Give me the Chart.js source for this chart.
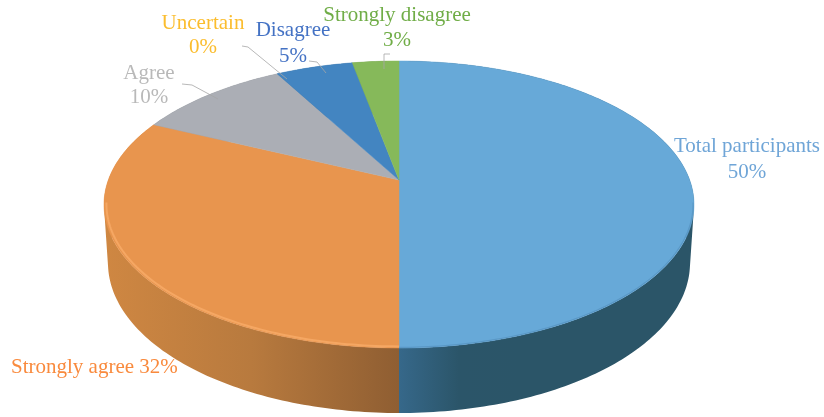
<!DOCTYPE html>
<html>
<head>
<meta charset="utf-8">
<style>
  html, body { margin: 0; padding: 0; background: #fff; }
  canvas { display: block; }
</style>
<script src="https://cdn.jsdelivr.net/npm/chart.js@4"></script>
</head>
<body>
<canvas id="myChart" width="824" height="417"></canvas>
<script>
const categories = ["Total participants", "Strongly agree", "Agree", "Uncertain", "Disagree", "Strongly disagree"];
const percents = [50, 32, 10, 0, 5, 3];

const faceColors = ["#67a9d8", "#e8954e", "#abaeb5", "#e8b93c", "#4385c1", "#86b95a"];
const sideColors = [
  ["#36688a", "#2b5569", "#2b5568"],
  ["#cf8742", "#b87a3e", "#8f5e32"],
  ["#80838a", "#80838a", "#80838a"],
  ["#b08c2c", "#b08c2c", "#b08c2c"],
  ["#2e5f8c", "#2e5f8c", "#2e5f8c"],
  ["#628a40", "#628a40", "#628a40"],
];
const textColors = ["#6fa5d7", "#f98a3d", "#b9b9b9", "#fbbd2e", "#4472c4", "#70ad47"];

// where each label sits: [x, first line y, second line y], align
const labelSpots = [
  [747, 146, 172, "center"],
  [11, 367, null, "left"],
  [149, 73, 97, "center"],
  [203, 23, 47, "center"],
  [293, 30, 56, "center"],
  [397, 15, 40, "center"],
];
const leaders = [
  [[182, 84], [192, 85], [218, 99]],
  [[242, 46], [248, 47], [287, 79]],
  [[309, 61], [317, 62], [326, 73]],
  [[390, 54], [384, 54], [384, 69]],
];

// the disc as seen in perspective: top face and bottom face ellipses
const topFace = { cy: 204.5, rx: 295, ry: 143.5 };
const bottomFace = { cy: 263, rx: 291, ry: 150 };

const project = (arc, face, angle, scale) => {
  const tilt = (arc.y - topFace.cy) / topFace.ry;
  const u = Math.cos(angle) * scale;
  const v = Math.sin(angle) * scale;
  const w = 1 + tilt * v;
  return {
    x: arc.x + (face.rx * u * Math.sqrt(1 - tilt * tilt)) / w,
    y: face.cy + (face.ry * (v + tilt)) / w,
  };
};

const arcPoints = (arc, face, scale) => {
  const pts = [];
  const steps = Math.max(2, Math.ceil((arc.endAngle - arc.startAngle) * 60));
  for (let i = 0; i <= steps; i++) {
    const a = arc.startAngle + ((arc.endAngle - arc.startAngle) * i) / steps;
    pts.push(project(arc, face, a, scale));
  }
  return pts;
};

const signedArea = (pts) => {
  let sum = 0;
  pts.forEach((p, i) => {
    const q = pts[(i + 1) % pts.length];
    sum += p.x * q.y - q.x * p.y;
  });
  return sum;
};

const pie3d = {
  id: "pie3d",
  beforeDatasetsDraw(chart) {
    const ctx = chart.ctx;
    const arcs = chart.getDatasetMeta(0).data;

    // side wall first, the top face covers whatever is behind it
    arcs.forEach((arc, i) => {
      if (arc.endAngle - arc.startAngle <= 0) return;
      const stops = sideColors[i];
      const left = i === 0 ? arc.x : arc.x - topFace.rx;
      const right = i === 0 ? arc.x + 120 : arc.x;
      const grad = ctx.createLinearGradient(left, 0, right, 0);
      grad.addColorStop(0, stops[0]);
      grad.addColorStop(0.5, stops[1]);
      grad.addColorStop(1, stops[2]);
      const upper = arcPoints(arc, topFace, 1);
      const lower = arcPoints(arc, bottomFace, 1);
      // quads share one path, so the silhouette between the ellipses fills without seams
      ctx.beginPath();
      for (let k = 1; k < upper.length; k++) {
        const quad = [upper[k - 1], upper[k], lower[k], lower[k - 1]];
        if (signedArea(quad) < 0) quad.reverse();
        quad.forEach((p, n) => (n ? ctx.lineTo(p.x, p.y) : ctx.moveTo(p.x, p.y)));
        ctx.closePath();
      }
      ctx.fillStyle = grad;
      ctx.fill();
    });

    arcs.forEach((arc, i) => {
      if (arc.endAngle - arc.startAngle <= 0) return;
      ctx.beginPath();
      ctx.moveTo(arc.x, arc.y);
      arcPoints(arc, topFace, 1).forEach((p) => ctx.lineTo(p.x, p.y));
      ctx.closePath();
      ctx.fillStyle = faceColors[i];
      ctx.fill();
      ctx.strokeStyle = faceColors[i];
      ctx.lineWidth = 0.5;
      ctx.stroke();
    });

    // soft rim on the front edge of the two big slices
    const rim = [["#5a98c6", 1.2, 0.997], ["#f5a763", 2, 0.992]];
    rim.forEach(([color, width, scale], i) => {
      const pts = arcPoints(arcs[i], topFace, scale).filter((p) => p.y > topFace.cy - 4);
      ctx.beginPath();
      pts.forEach((p) => ctx.lineTo(p.x, p.y));
      ctx.strokeStyle = color;
      ctx.lineWidth = width;
      ctx.stroke();
    });
    return false;
  },
  afterDraw(chart) {
    const ctx = chart.ctx;
    ctx.save();
    ctx.strokeStyle = "#a6a6a6";
    ctx.lineWidth = 0.8;
    leaders.forEach((line) => {
      ctx.beginPath();
      line.forEach(([x, y]) => ctx.lineTo(x, y));
      ctx.stroke();
    });

    ctx.font = '21px "Liberation Serif"';
    ctx.textBaseline = "middle";
    categories.forEach((name, i) => {
      const [x, y1, y2, align] = labelSpots[i];
      ctx.fillStyle = textColors[i];
      ctx.textAlign = align;
      if (y2 === null) {
        ctx.fillText(name + " " + percents[i] + "%", x, y1);
      } else {
        ctx.fillText(name, x, y1);
        ctx.fillText(percents[i] + "%", x, y2);
      }
    });
    ctx.restore();
  },
};

new Chart(document.getElementById("myChart").getContext("2d"), {
  type: "pie",
  data: {
    labels: categories,
    datasets: [{ data: percents, backgroundColor: faceColors, borderWidth: 0 }],
  },
  options: {
    responsive: false,
    animation: false,
    radius: 295,
    layout: { padding: { right: 26, bottom: 57 } },
    plugins: { legend: { display: false }, tooltip: { enabled: false } },
  },
  plugins: [pie3d],
});
</script>
</body>
</html>
